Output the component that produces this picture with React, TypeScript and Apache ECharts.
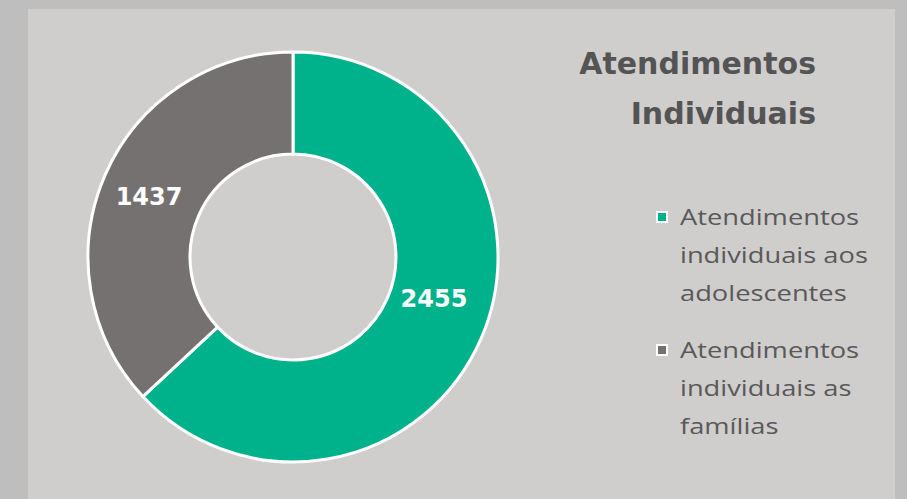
import React, { useEffect, useRef } from "react";
import * as echarts from "echarts";

const categories = [
  "Atendimentos individuais aos adolescentes",
  "Atendimentos individuais as famílias",
];
const legendLines = [
  ["Atendimentos", "individuais aos", "adolescentes"],
  ["Atendimentos", "individuais as", "famílias"],
];
const values = [2455, 1437];
const colors = ["#00b28b", "#767171"];
const titleText = "Atendimentos\nIndividuais";

export default function App() {
  const ref = useRef<HTMLDivElement>(null);
  useEffect(() => {
    if (!ref.current) return;
    const chart = echarts.init(ref.current, null, { renderer: "svg" });
    const legendGraphics: any[] = [];
    categories.forEach((c, i) => {
      const top = 205 + i * 133;
      legendGraphics.push({
        type: "rect",
        shape: { x: 657, y: top + 7, width: 10, height: 10 },
        style: { fill: colors[i], stroke: "#ffffff", lineWidth: 2 },
        z: 10,
      });
      legendGraphics.push({
        type: "text",
        x: 680,
        y: top - 7,
        scaleX: 1.3,
        style: {
          text: legendLines[i].join("\n"),
          fill: "#595959",
          font: "21px 'Open Sans'",
          lineHeight: 38,
          align: "left",
          verticalAlign: "top",
        },
        z: 10,
      });
    });
    chart.setOption({
      animation: false,
      backgroundColor: "#bebebe",
      title: {
        text: titleText,
        left: 816,
        top: 38,
        padding: 0,
        textAlign: "right",
        textStyle: {
          fontFamily: "DejaVu Sans",
          fontWeight: "bold",
          fontSize: 30,
          lineHeight: 50,
          color: "#545454",
          align: "right",
        },
      },
      graphic: [
        {
          type: "rect",
          shape: { x: 28, y: 9, width: 867, height: 490 },
          style: { fill: "#d0cdcd" },
          z: -10,
        },
        ...legendGraphics,
      ],
      series: [
        {
          type: "pie",
          center: [293, 257],
          radius: [103, 205],
          startAngle: 90,
          clockwise: true,
          silent: true,
          itemStyle: { borderColor: "#ffffff", borderWidth: 3 },
          label: {
            show: true,
            position: "inside",
            formatter: "{c}",
            color: "#ffffff",
            fontFamily: "DejaVu Sans",
            fontWeight: "bold",
            fontSize: 24,
          },
          labelLine: { show: false },
          data: categories.map((name, i) => ({
            name,
            value: values[i],
            itemStyle: { color: colors[i] },
            label: i === 0 ? { offset: [-3, -21] } : { offset: [0, 3] },
          })),
        },
      ],
    });
    return () => chart.dispose();
  }, []);
  return (
    <div
      ref={ref}
      style={{ position: "fixed", left: 0, top: 0, width: 907, height: 499 }}
    />
  );
}
